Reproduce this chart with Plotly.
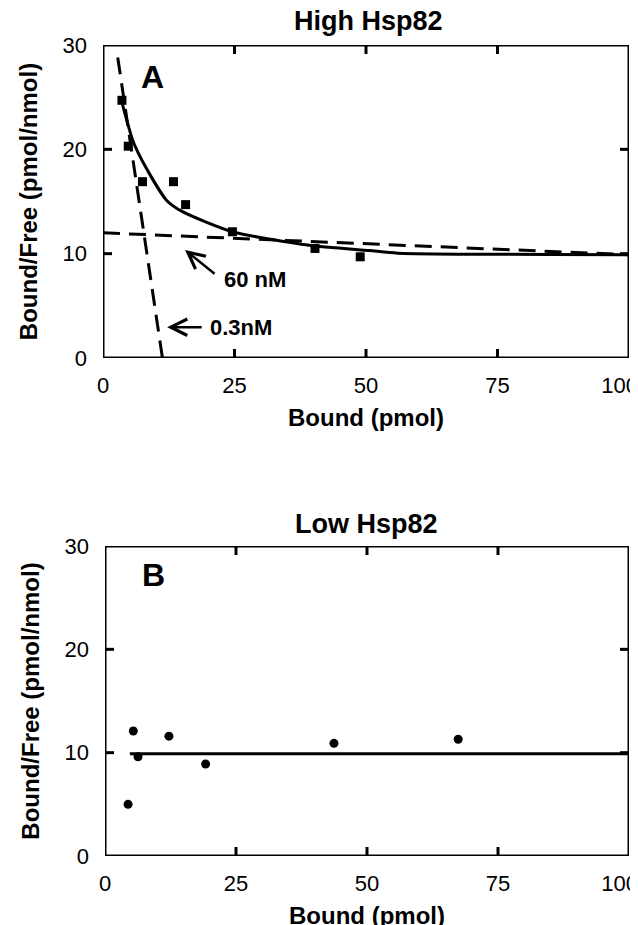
import plotly.graph_objects as go

# ---------------- data ----------------
a_bound = [3.6, 4.8, 7.5, 13.4, 15.7, 24.6, 40.3, 48.9]
a_ratio = [24.7, 20.3, 16.9, 16.9, 14.7, 12.1, 10.5, 9.7]
a_fit_x = [3.6, 5.7, 8.0, 12.1, 15.2, 24.6, 39.2, 50.6, 56.0, 100.0]
a_fit_y = [24.5, 20.8, 18.4, 15.1, 14.0, 12.1, 10.8, 10.3, 10.05, 9.9]
a_low_aff_x = [0.0, 100.0]     # 60 nM component
a_low_aff_y = [12.0, 9.9]
a_high_aff_x = [2.8, 11.3]     # 0.3 nM component
a_high_aff_y = [28.8, 0.0]

b_bound = [4.4, 5.4, 6.3, 12.2, 19.2, 43.7, 67.4]
b_ratio = [5.0, 12.1, 9.6, 11.6, 8.9, 10.9, 11.3]
b_fit_x = [4.75, 100.0]
b_fit_y = [9.9, 9.9]

x_range = [0, 100]
y_range = [0, 30]
x_ticks = [0, 25, 50, 75, 100]
x_label_pos = [0, 25, 50, 75, 98.2]
x_label_text = ["0", "25", "50", "75", "100"]
y_ticks = [0, 10, 20, 30]

FONT = "Liberation Sans, Arial, Helvetica, sans-serif"

# figure layout in pixels (page offsets the figure by 8 px)
OFF = 8
ML, MR, MT, MB = 103 - OFF, 638 - 629 + OFF, 45 - OFF, 925 - 856 + OFF
PW = 638 - ML - MR
PH = 925 - MT - MB


def px_x(px):
    return (px - OFF - ML) / PW


def px_y(py):
    return (925 - MB - (py - OFF)) / PH


fig = go.Figure()
fig.add_trace(go.Scatter(x=a_bound, y=a_ratio, mode="markers",
                         marker=dict(symbol="square", size=9, color="black"),
                         xaxis="x", yaxis="y", showlegend=False))
fig.add_trace(go.Scatter(x=a_fit_x, y=a_fit_y, mode="lines",
                         line=dict(color="black", width=3, shape="spline", smoothing=0.6),
                         xaxis="x", yaxis="y", showlegend=False))
fig.add_trace(go.Scatter(x=a_low_aff_x, y=a_low_aff_y, mode="lines",
                         line=dict(color="black", width=3, dash="17px,9px"),
                         xaxis="x", yaxis="y", showlegend=False))
fig.add_trace(go.Scatter(x=a_high_aff_x, y=a_high_aff_y, mode="lines",
                         line=dict(color="black", width=3, dash="17px,9px"),
                         xaxis="x", yaxis="y", showlegend=False))
fig.add_trace(go.Scatter(x=b_bound, y=b_ratio, mode="markers",
                         marker=dict(symbol="circle", size=9, color="black"),
                         xaxis="x2", yaxis="y2", showlegend=False))
fig.add_trace(go.Scatter(x=b_fit_x, y=b_fit_y, mode="lines",
                         line=dict(color="black", width=3),
                         xaxis="x2", yaxis="y2", showlegend=False))

# frame + inside ticks on all four sides, built from axis ranges and tick lists
TICK_PX = 9
panel_px = {("x", "y"): (PW, 313), ("x2", "y2"): (PW - 2, 310)}
for (xa, ya), (wpx, hpx) in panel_px.items():
    x0, x1 = x_range
    y0, y1 = y_range
    tx = TICK_PX * (x1 - x0) / wpx
    ty = TICK_PX * (y1 - y0) / hpx
    fx = [x0, x1, x1, x0, x0, None]
    fy = [y0, y0, y1, y1, y0, None]
    for t in x_ticks[1:-1]:
        fx += [t, t, None, t, t, None]
        fy += [y0, y0 + ty, None, y1 - ty, y1, None]
    for t in y_ticks[1:-1]:
        fx += [x0, x0 + tx, None, x1 - tx, x1, None]
        fy += [t, t, None, t, t, None]
    fig.add_trace(go.Scatter(x=fx, y=fy, mode="lines", cliponaxis=False,
                             line=dict(color="black", width=3),
                             hoverinfo="skip", showlegend=False,
                             xaxis=xa, yaxis=ya))

TF = dict(family=FONT, size=22, color="black")


def xaxis(domain, anchor):
    return dict(domain=domain, anchor=anchor, range=x_range,
                tickmode="array", tickvals=x_label_pos, ticktext=x_label_text,
                tickprefix="<b>", ticksuffix="</b>", tickfont=TF,
                ticks="", showline=False, showgrid=False, zeroline=False,
                ticklabeloverflow="allow", ticklabelstandoff=12,
                title=dict(text="<b>Bound (pmol)</b>", standoff=12,
                           font=dict(family=FONT, size=24, color="black")))


def yaxis(domain, anchor):
    return dict(domain=domain, anchor=anchor, range=y_range,
                tickmode="array", tickvals=y_ticks,
                tickprefix="<b>", ticksuffix="</b>", tickfont=TF,
                ticks="", showline=False, showgrid=False, zeroline=False,
                ticklabelstandoff=15,
                title=dict(text="<b>Bound/Free (pmol/nmol)</b>", standoff=18,
                           font=dict(family=FONT, size=24, color="black")))


fig.update_layout(
    template="none",
    width=638, height=925,
    margin=dict(l=ML, r=MR, t=MT, b=MB, autoexpand=False),
    xaxis=xaxis([0, 1], "y"),
    yaxis=yaxis([px_y(358), 1], "x"),
    xaxis2=xaxis([px_x(105), 1], "y2"),
    yaxis2=yaxis([0, px_y(546)], "x2"),
)

ann_font = dict(family=FONT, size=22, color="black")
annotations = [
    dict(text="<b>High Hsp82</b>", xref="paper", yref="paper", x=px_x(368), y=px_y(21),
         xanchor="center", yanchor="middle", showarrow=False,
         font=dict(family=FONT, size=27, color="black")),
    dict(text="<b>Low Hsp82</b>", xref="paper", yref="paper", x=px_x(366), y=px_y(524),
         xanchor="center", yanchor="middle", showarrow=False,
         font=dict(family=FONT, size=27, color="black")),
    dict(text="<b>A</b>", xref="x", yref="y", x=9.5, y=26.9, showarrow=False,
         xanchor="center", yanchor="middle",
         font=dict(family=FONT, size=32, color="black")),
    dict(text="<b>B</b>", xref="x2", yref="y2", x=9.2, y=27.2, showarrow=False,
         xanchor="center", yanchor="middle",
         font=dict(family=FONT, size=32, color="black")),
    dict(text="<b>60 nM</b>", xref="x", yref="y", x=28.9, y=7.5, showarrow=False,
         xanchor="center", yanchor="middle", font=ann_font),
    dict(text="", xref="x", yref="y", x=15.6, y=10.35, showarrow=True,
         ax=31, ay=25, arrowhead=5, arrowsize=1.3, arrowwidth=2.5, arrowcolor="black"),
    dict(text="<b>0.3nM</b>", xref="x", yref="y", x=26.2, y=2.9, showarrow=False,
         xanchor="center", yanchor="middle", font=ann_font),
    dict(text="", xref="x", yref="y", x=12.2, y=2.95, showarrow=True,
         ax=36, ay=0, arrowhead=5, arrowsize=1.3, arrowwidth=2.5, arrowcolor="black"),
]
fig.update_layout(annotations=annotations)

fig.write_html("out.html")
